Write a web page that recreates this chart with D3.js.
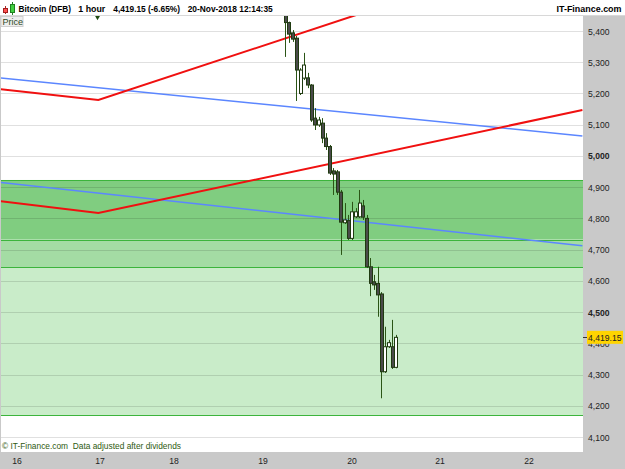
<!DOCTYPE html>
<html><head><meta charset="utf-8">
<script src="https://cdn.jsdelivr.net/npm/d3@7/dist/d3.min.js"></script>
<style>body{margin:0;background:#fff}svg{display:block}text{font-family:"Liberation Sans",Arial,sans-serif}</style>
</head><body><svg id="c" width="625" height="469"></svg>
<script>
// ---------- DATA ----------
const dayTicks = [16, 17, 18, 19, 20, 21, 22];
const priceTicks = [4100,4200,4300,4400,4500,4600,4700,4800,4900,5000,5100,5200,5300,5400];
const boldTicks = [5000, 4500];
// hourly candles, hour offset from 19-Nov-2018 00:00
const candleHour = [6,7,8,9,10,11,12,13,14,15,16,17,18,19,20,21,22,23,24,25,26,27,28,29,30,31,32,33,34,35,36];
const candleOpen  = [5454,5427,5394,5377,5200,5249,5250,5227,5121,5099,5105,5057,5030,4952,4949,4884,4786,4793,4736,4805,4805,4840,4800,4645,4597,4592,4558,4309,4389,4389,4323];
const candleHigh  = [5467,5430,5403,5384,5281,5330,5266,5230,5153,5125,5121,5073,5035,4961,4955,4891,4849,4811,4853,4833,4891,4859,4811,4673,4619,4645,4564,4453,4411,4475,4427];
const candleLow   = [5317,5362,5365,5176,5195,5243,5217,5109,5083,5093,5041,5019,4939,4875,4875,4683,4782,4731,4731,4801,4801,4795,4641,4551,4571,4485,4224,4305,4385,4318,4320];
const candleClose = [5427,5390,5374,5275,5275,5291,5227,5115,5099,5115,5057,5030,4945,4942,4884,4788,4795,4736,4821,4821,4849,4804,4645,4592,4587,4555,4309,4389,4402,4323,4419.15];
// trend lines: [day, price]
const redUpper  = [[15.78,5214],[16.98,5179],[22.6,5690]];
const redLower  = [[15.78,4856],[16.98,4817],[22.6,5147]];
const blueUpper = [[15.78,5250],[22.6,5064]];
const blueLower = [[15.78,4916],[22.6,4712]];
// zones (price bounds)
const zoneDark  = [4923, 4732];
const zoneMid   = [4732, 4643];
const zoneLight = [4643, 4170];
const zoneLines = [4923, 4732, 4643, 4170];
const lastPrice = 4419.15;
const markerDay = 16.97;

// ---------- LAYOUT ----------
const svg = d3.select("#c");
const W = 625, H = 469;
const plot = {l: 1, t: 16, r: 583, b: 452};
const x = d3.scaleLinear().domain(dayTicks).range([17,100,174,263,352,440,529]);
const y = d3.scaleLinear().domain([5400, 4100]).range([31, 437]);

svg.append("rect").attr("x",0).attr("y",0).attr("width",W).attr("height",H).attr("fill","#fff");
svg.append("rect").attr("x",plot.r).attr("y",plot.t).attr("width",W-plot.r).attr("height",H-plot.t).attr("fill","#c9c9c9");
svg.append("rect").attr("x",0).attr("y",plot.b).attr("width",W).attr("height",H-plot.b).attr("fill","#c9c9c9");
svg.append("rect").attr("x",0).attr("y",plot.t).attr("width",1).attr("height",plot.b-plot.t).attr("fill","#c9c9c9");
svg.append("line").attr("x1",0).attr("x2",W).attr("y1",15.5).attr("y2",15.5).attr("stroke","#d8d8d8");

const clip = svg.append("defs").append("clipPath").attr("id","pc");
clip.append("rect").attr("x",plot.l).attr("y",plot.t).attr("width",plot.r-plot.l).attr("height",plot.b-plot.t);
const g = svg.append("g").attr("clip-path","url(#pc)");

function zone(b, col){
  g.append("rect").attr("x",plot.l).attr("width",plot.r-plot.l)
   .attr("y",y(b[0])).attr("height",y(b[1])-y(b[0])).attr("fill",col);
}
zone(zoneDark,"#80cd80");
zone(zoneMid,"#a4dca4");
zone(zoneLight,"#c9ecc9");

g.selectAll(".gl").data(priceTicks).join("line")
  .attr("x1",plot.l).attr("x2",plot.r)
  .attr("y1",d=>Math.round(y(d))+0.5).attr("y2",d=>Math.round(y(d))+0.5)
  .attr("stroke","#000").attr("stroke-opacity",0.12);

g.selectAll(".zl").data(zoneLines).join("line")
  .attr("x1",plot.l).attr("x2",plot.r)
  .attr("y1",d=>Math.round(y(d))+0.5).attr("y2",d=>Math.round(y(d))+0.5)
  .attr("stroke","#3cb43c").attr("stroke-width",1.2);

const line = d3.line().x(d=>x(d[0])).y(d=>y(d[1]));
function tl(data,col,w){ g.append("path").attr("d",line(data)).attr("fill","none").attr("stroke",col).attr("stroke-width",w); }
tl(blueUpper,"#5b86ff",1.5);
tl(blueLower,"#5b86ff",1.5);
tl(redUpper,"#f01010",2);
tl(redLower,"#f01010",2);

const hx = h => x(19 + h/24);
const bw = (x(20)-x(19))/24*0.85;
const candles = candleHour.map((h,i)=>({h,o:candleOpen[i],hi:candleHigh[i],lo:candleLow[i],c:candleClose[i]}));
const cg = g.append("g");
cg.selectAll(".wick").data(candles).join("line")
  .attr("x1",d=>Math.round(hx(d.h))+0.5).attr("x2",d=>Math.round(hx(d.h))+0.5)
  .attr("y1",d=>y(d.hi)).attr("y2",d=>y(d.lo))
  .attr("stroke","#2b5516").attr("stroke-width",1);
cg.selectAll(".body").data(candles).join("rect")
  .attr("x",d=>Math.round(hx(d.h)-bw/2)+0.5).attr("width",Math.round(bw))
  .attr("y",d=>y(Math.max(d.o,d.c))).attr("height",d=>Math.max(1,Math.abs(y(d.o)-y(d.c))))
  .attr("fill",d=>d.c>=d.o?"#ffffff":"#4a4a4a")
  .attr("stroke","#1f3a10").attr("stroke-width",1);

svg.append("path").attr("d",d3.symbol(d3.symbolTriangle,10)())
  .attr("transform",`translate(${x(markerDay)},17.5) rotate(180)`).attr("fill","#1e4a10");

svg.append("rect").attr("x",1).attr("y",16.5).attr("width",22).attr("height",10).attr("fill","#eeeeee").attr("stroke","#cfcfcf");
svg.append("text").attr("x",2.5).attr("y",25).attr("font-size",9).attr("fill","#2d4a1e").text("Price");

const hdr = svg.append("g");
hdr.append("line").attr("x1",5.5).attr("x2",5.5).attr("y1",6).attr("y2",14).attr("stroke","#b02020");
hdr.append("rect").attr("x",3.5).attr("y",8.5).attr("width",4).attr("height",4).attr("fill","#ff5050").attr("stroke","#a02020");
hdr.append("line").attr("x1",12.5).attr("x2",12.5).attr("y1",2).attr("y2",15).attr("stroke","#208020");
hdr.append("rect").attr("x",10.5).attr("y",4.5).attr("width",4).attr("height",8).attr("fill","#40d040").attr("stroke","#208020");
const headerTexts = [["Bitcoin (DFB)",18.5,52.5],["1 hour",78.3,27],["4,419.15 (-6.65%)",113.3,66.7],["20-Nov-2018 12:14:35",187.7,85]];
headerTexts.forEach(([t,xx,w])=>{
  hdr.append("text").attr("x",xx).attr("y",12).attr("font-size",9).attr("font-weight","bold").attr("fill","#000")
    .attr("textLength",w).attr("lengthAdjust","spacingAndGlyphs").text(t);
});
hdr.append("text").attr("x",556.5).attr("y",12).attr("font-size",9).attr("font-weight","bold").attr("fill","#000")
  .attr("textLength",65).attr("lengthAdjust","spacingAndGlyphs").text("IT-Finance.com");

svg.selectAll(".yl").data(priceTicks).join("text")
  .attr("x",588).attr("y",d=>y(d)+3.5).attr("font-size",8.6)
  .attr("font-weight",d=>boldTicks.includes(d)?"bold":"normal")
  .attr("fill","#222").text(d=>d3.format(",")(d));

const ly = y(lastPrice);
svg.append("line").attr("x1",583).attr("x2",587).attr("y1",Math.round(ly)+0.5).attr("y2",Math.round(ly)+0.5).attr("stroke","#333");
svg.append("rect").attr("x",587).attr("y",ly-6.5).attr("width",36).attr("height",13).attr("fill","#ffd400");
svg.append("text").attr("x",588).attr("y",ly+3.5).attr("font-size",8.6).attr("fill","#222").text(d3.format(",.2f")(lastPrice));

svg.selectAll(".xl").data(dayTicks).join("text")
  .attr("x",d=>x(d)).attr("y",464).attr("text-anchor","middle").attr("font-size",8.6).attr("fill","#222").text(d=>d);

svg.append("text").attr("x",2).attr("y",449).attr("font-size",8.6).attr("fill","#2f5a10")
  .attr("textLength",179).attr("lengthAdjust","spacingAndGlyphs").text("\u00A9 IT-Finance.com\u00A0\u00A0Data adjusted after dividends");
</script></body></html>
